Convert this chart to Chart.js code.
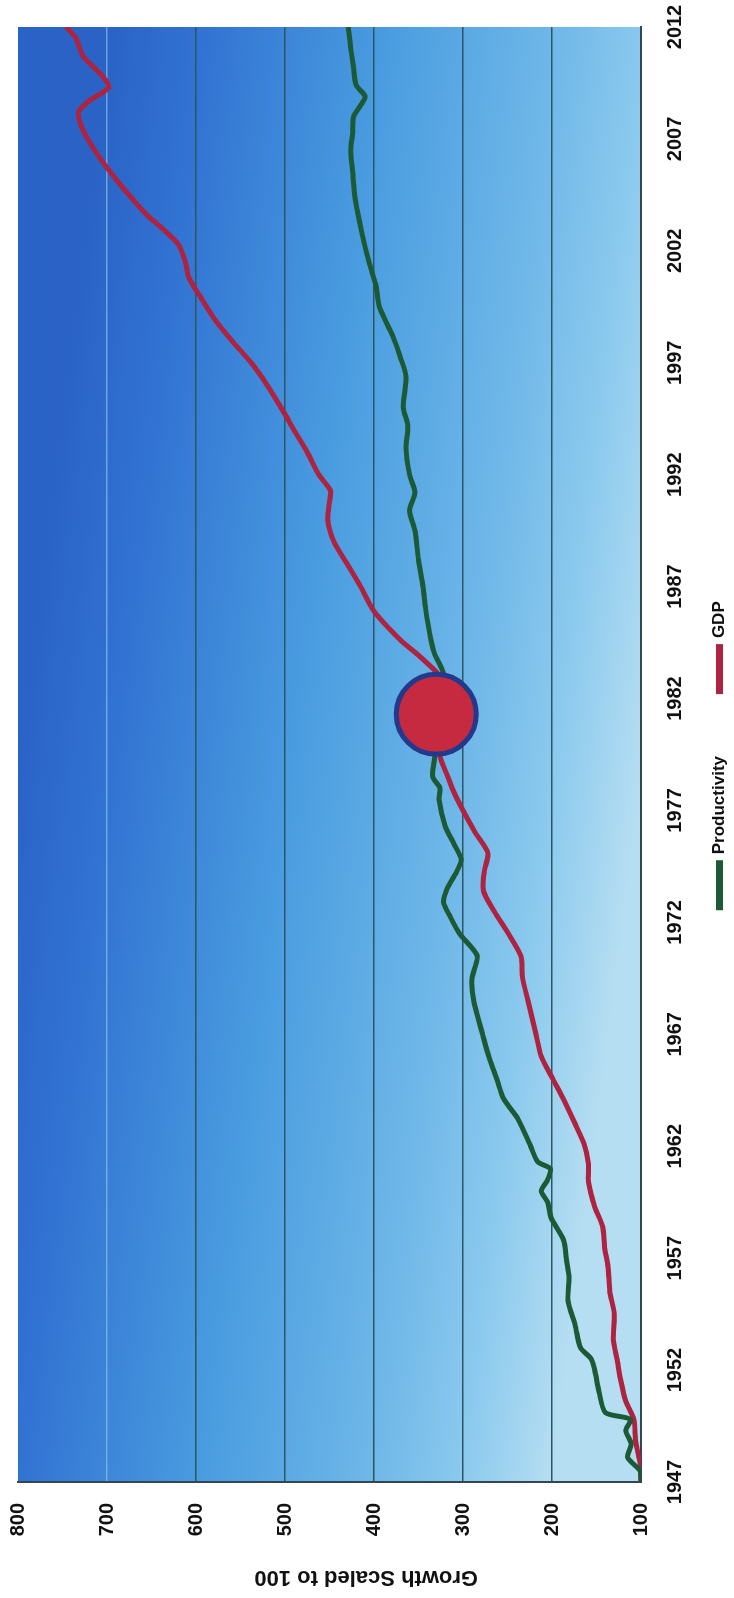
<!DOCTYPE html>
<html>
<head>
<meta charset="utf-8">
<script src="https://cdn.jsdelivr.net/npm/chart.js@4.4.1/dist/chart.umd.min.js"></script>
<style>
  html, body { margin: 0; padding: 0; background: #fff; overflow: hidden; }
  body { width: 734px; height: 1598px; position: relative; }
  /* chart is drawn landscape and turned a quarter to the left, like the scan */
  #wrap {
    position: absolute; left: 0; top: 0;
    width: 1598px; height: 734px;
    transform-origin: 0 0;
    transform: translateY(1598px) rotate(-90deg);
  }
</style>
</head>
<body>
<div id="wrap"><canvas id="chart" width="1598" height="734"></canvas></div>
<script>
const yearTicks = [1947, 1952, 1957, 1962, 1967, 1972, 1977, 1982, 1987, 1992, 1997, 2002, 2007, 2012];
const valueTicks = [100, 200, 300, 400, 500, 600, 700, 800];

const prodYears = [1947, 1947.5, 1948.1, 1948.7, 1949.3, 1949.8, 1950.1, 1951, 1952, 1952.5, 1953, 1954,
  1955.1, 1956.2, 1957, 1957.8, 1958.8, 1959.5, 1960, 1960.5, 1961, 1961.3, 1962, 1963.2, 1964.1, 1965,
  1966, 1967, 1968.5, 1969.5, 1970.5, 1971.5, 1972.3, 1972.9, 1973.5, 1974.2, 1974.8, 1975.5, 1976.3,
  1977.5, 1978, 1978.5, 1979.3, 1980, 1981, 1982, 1983.1, 1984, 1984.6, 1986, 1987, 1988.2, 1989.5,
  1990.4, 1991.2, 1992, 1993.2, 1994.2, 1995, 1996.4, 1997.2, 1998.2, 1999.5, 2000.5, 2001.4, 2002.7,
  2004.3, 2005.5, 2006.5, 2007.3, 2008, 2008.5, 2008.9, 2009.4, 2010.2, 2011, 2012];
const prodValues = [100, 101, 115, 111, 117, 112, 140, 147, 152, 156, 168, 174,
  182, 181, 184, 187, 201, 205, 212, 205, 202, 216, 224, 238, 254, 262,
  271, 278, 288, 290, 284, 304, 315, 322, 318, 308, 302, 310, 320,
  327, 326, 334, 332, 330, 332, 328, 322, 332, 336, 342, 345, 350, 354,
  360, 354, 360, 364, 362, 367, 364, 370, 379, 394, 398, 405, 413,
  421, 424, 426, 424, 423, 415, 410, 420, 423, 426, 429];

const gdpYears = [1947, 1947.8, 1948.8, 1949.8, 1950.6, 1951.6, 1952.5, 1953.3, 1954.5, 1955.5, 1956.6,
  1957.5, 1958.4, 1959.3, 1960.4, 1961.2, 1962.1, 1963, 1964.1, 1965, 1966, 1967, 1968.5, 1969.5,
  1970.5, 1971.5, 1972.5, 1973.4, 1974.3, 1975.1, 1976, 1977, 1977.8, 1978.5, 1979.5, 1980.3, 1981,
  1981.7, 1982.5, 1983.1, 1984, 1984.6, 1985.9, 1987, 1988, 1989, 1990, 1990.8, 1991.3, 1992, 1993,
  1994, 1994.7, 1996, 1997, 1998, 1999, 2000, 2000.8, 2001.5, 2002.3, 2003, 2003.6, 2004.3, 2005, 2006.2,
  2007.4, 2008.2, 2008.7, 2009.3, 2009.8, 2010.7, 2011.5, 2012];
const gdpValues = [100, 101, 106, 108, 117, 123, 127, 131, 130, 135, 137,
  141, 143, 152, 159, 159, 164, 174, 187, 199, 212, 218, 227, 233,
  235, 249, 265, 277, 276, 272, 286, 300, 310, 317, 326, 320, 328,
  325, 320, 328, 352, 370, 400, 415, 430, 445, 452, 450, 449, 462, 475,
  490, 500, 520, 538, 560, 580, 596, 608, 612, 620, 638, 655, 671, 686, 709,
  727, 732, 720, 698, 705, 727, 735, 746];

// hand-drawn circle marking the crossing point
const markYear = [1981.3];
const markValue = [330];

function toPoints(xs, ys) {
  return xs.map((x, i) => ({ x: x, y: ys[i] }));
}

const plotBackground = {
  id: 'plotBackground',
  beforeDraw(chart) {
    const { ctx, chartArea: a } = chart;
    const cx = (a.left + a.right) / 2;
    const g = ctx.createLinearGradient(cx + 40, a.top, cx - 40, a.bottom);
    g.addColorStop(0, '#2a62c6');
    g.addColorStop(0.15, '#3172d2');
    g.addColorStop(0.45, '#4a9de0');
    g.addColorStop(0.7, '#6db6e8');
    g.addColorStop(0.86, '#8ccaee');
    g.addColorStop(1, '#b6def2');
    ctx.save();
    ctx.fillStyle = g;
    ctx.fillRect(a.left, a.top, a.right - a.left, a.bottom - a.top);
    ctx.restore();
  }
};

const tickFont = { family: "'Liberation Sans', Arial, sans-serif", size: 20, weight: 'bold' };

new Chart(document.getElementById('chart'), {
  type: 'line',
  data: {
    datasets: [
      {
        label: 'Productivity',
        data: toPoints(prodYears, prodValues),
        borderColor: '#1b5a34',
        backgroundColor: '#1b5a34',
        borderWidth: 5,
        pointRadius: 0,
        tension: 0.25,
        order: 1
      },
      {
        label: 'GDP',
        data: toPoints(gdpYears, gdpValues),
        borderColor: '#ad2340',
        backgroundColor: '#ad2340',
        borderWidth: 5,
        pointRadius: 0,
        tension: 0.25,
        order: 2
      },
      {
        type: 'scatter',
        label: 'mark',
        data: toPoints(markYear, markValue),
        pointRadius: 40,
        borderWidth: 5,
        backgroundColor: '#c62a40',
        borderColor: '#23398c',
        order: 0
      }
    ]
  },
  options: {
    responsive: false,
    animation: false,
    devicePixelRatio: 1,
    layout: { autoPadding: false, padding: { top: 18, right: 27, left: 0, bottom: -4 } },
    plugins: {
      legend: {
        position: 'bottom',
        fullSize: false,
        labels: {
          color: '#111',
          font: { family: "'Liberation Sans', Arial, sans-serif", size: 17, weight: 'bold' },
          boxWidth: 45,
          boxHeight: 2,
          padding: 3,
          filter: (item) => item.text !== 'mark',
          generateLabels: (chart) => {
            const items = Chart.defaults.plugins.legend.labels.generateLabels(chart);
            // the scan leaves a wide gap between the two entries
            items.forEach(it => { if (it.text === 'Productivity') it.text = 'Productivity' + '\u00a0'.repeat(13); });
            return items;
          }
        }
      },
      tooltip: { enabled: false }
    },
    scales: {
      x: {
        type: 'linear',
        min: 1947,
        max: 2012,
        afterBuildTicks: (axis) => { axis.ticks = yearTicks.map(v => ({ value: v })); },
        afterFit: (scale) => {
          scale.height = 67;
          scale.paddingLeft = 0;
          scale.paddingRight = 0;
        },
        ticks: {
          color: '#111',
          font: tickFont,
          padding: 22,
          maxRotation: 0,
          autoSkip: false,
          callback: (v) => String(v)
        },
        grid: { color: 'rgba(0,0,0,0)', drawTicks: false },
        border: { display: true, color: '#34464f', width: 2 }
      },
      y: {
        min: 100,
        max: 800,
        afterBuildTicks: (axis) => { axis.ticks = valueTicks.map(v => ({ value: v })); },
        afterFit: (scale) => {
          scale.width = 116;
          scale.paddingTop = 0;
          scale.paddingBottom = 0;
        },
        ticks: {
          color: '#111',
          font: tickFont,
          padding: 21,
          callback: (v) => String(v)
        },
        grid: {
          drawTicks: false,
          lineWidth: 1.5,
          color: (ctx) => {
            const v = ctx.tick && ctx.tick.value;
            if (v === 800 || v === 100) return 'rgba(0,0,0,0)';
            if (v === 700) return 'rgba(140,190,230,0.7)';
            return '#2c5565';
          }
        },
        border: { display: true, color: '#34464f', width: 2 },
        title: {
          display: true,
          text: 'Growth Scaled to 100' + '\u00a0'.repeat(12),
          color: '#111',
          font: { family: "'Liberation Sans', Arial, sans-serif", size: 22, weight: 'bold' },
          padding: { top: 8, bottom: 0 }
        }
      }
    }
  },
  plugins: [plotBackground]
});
</script>
</body>
</html>
